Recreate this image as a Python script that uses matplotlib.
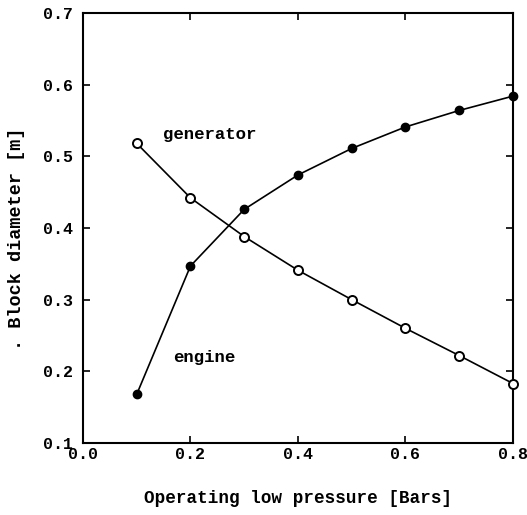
import matplotlib
matplotlib.use("Agg")
from matplotlib import pyplot as plt

pressure = [0.1, 0.2, 0.3, 0.4, 0.5, 0.6, 0.7, 0.8]
engine = [0.168, 0.347, 0.426, 0.474, 0.511, 0.541, 0.564, 0.584]
generator = [0.518, 0.442, 0.388, 0.341, 0.300, 0.260, 0.222, 0.183]

plt.rcParams['font.family'] = ['Liberation Mono', 'DejaVu Sans Mono']
plt.rcParams['font.weight'] = 'bold'

fig = plt.figure(figsize=(5.27, 5.15), dpi=100)
ax = fig.add_axes([0.1575, 0.1398, 0.8159, 0.835])

# Plot data.
ax.plot(pressure, engine, c='black', lw=1.2, marker='o', ms=6,
        mfc='black', mec='black', clip_on=False, zorder=3)
ax.plot(pressure, generator, c='black', lw=1.2, marker='o', ms=6.5,
        mfc='white', mec='black', mew=1.4, clip_on=False, zorder=3)

ax.text(0.236, 0.53, 'generator', fontsize=12.5, fontweight='bold',
        ha='center', va='center')
ax.text(0.225, 0.219, 'engine', fontsize=12.5, fontweight='bold',
        ha='center', va='center')

# Format plot.
ax.set_xlim(0.0, 0.8)
ax.set_ylim(0.1, 0.7)
ax.set_xticks([0.0, 0.2, 0.4, 0.6, 0.8])
ax.set_yticks([0.1, 0.2, 0.3, 0.4, 0.5, 0.6, 0.7])
ax.xaxis.set_major_formatter(plt.FormatStrFormatter('%.1f'))
ax.yaxis.set_major_formatter(plt.FormatStrFormatter('%.1f'))
ax.tick_params(direction='in', top=True, right=True, length=5, width=1.2,
               labelsize=12)
ax.tick_params(axis='x', pad=3)
ax.tick_params(axis='y', pad=7)
for spine in ax.spines.values():
    spine.set_linewidth(1.5)

ax.set_xlabel('Operating low pressure [Bars]', fontsize=12.7,
              fontweight='bold', labelpad=20)
ax.set_ylabel('. Block diameter [m]', fontsize=13.3, fontweight='bold',
              labelpad=10)
ax.yaxis.set_label_coords(-0.135, 0.475)

fig.savefig('out.png', dpi=100)
